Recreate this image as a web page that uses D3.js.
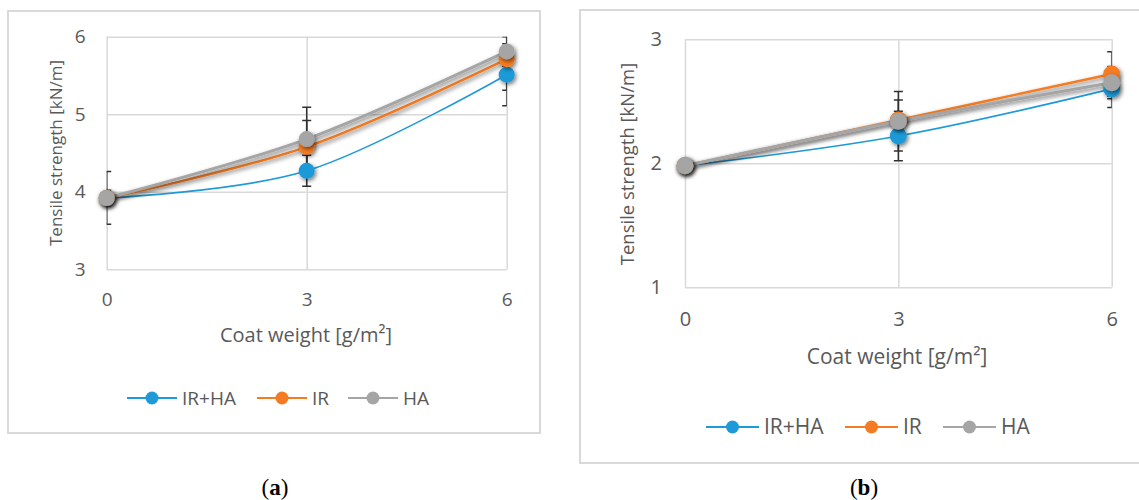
<!DOCTYPE html>
<html>
<head>
<meta charset="utf-8">
<script src="https://cdn.jsdelivr.net/npm/d3@7"></script>
<style>
  body { margin: 0; background: #fff; }
  text { font-family: "Open Sans", sans-serif; fill: #595959; }
</style>
</head>
<body>
<svg id="chart"></svg>
<script>
// ---- data ----
const coatWeights = [0, 3, 6];
const seriesNames = ["IR+HA", "IR", "HA"];
const xTicks = [0, 3, 6];

// panel (a)
const aTicksY = [3, 4, 5, 6];
const aIRHA = [3.92, 4.27, 5.51];
const aIR   = [3.92, 4.58, 5.71];
const aHA   = [3.92, 4.68, 5.81];
const aIRHAerr = [0.34, 0.20, 0.40];
const aIRerr   = [0.10, 0.34, 0.40];
const aHAerr   = [0.08, 0.41, 0.19];

// panel (b)
const bTicksY = [1, 2, 3];
const bIRHA = [1.98, 2.22, 2.60];
const bIR   = [1.98, 2.35, 2.72];
const bHA   = [1.98, 2.34, 2.65];
const bIRHAerr = [0.04, 0.20, 0.15];
const bIRerr   = [0.04, 0.16, 0.18];
const bHAerr   = [0.04, 0.24, 0.13];

const colors = { "IR+HA": "#1f9ad8", "IR": "#f57b22", "HA": "#a5a5a5" };
const widths = { "IR+HA": 1.6, "IR": 2.4, "HA": 3 };

const width = 1139, height = 500;
const svg = d3.select("#chart")
    .attr("width", width)
    .attr("height", height)
    .attr("viewBox", [0, 0, width, height]);

// soft shadow like Excel's outer shadow
const defs = svg.append("defs");
const shadow = defs.append("filter").attr("id", "shadow")
    .attr("x", "-50%").attr("y", "-50%").attr("width", "200%").attr("height", "200%");
shadow.append("feDropShadow")
    .attr("dx", 1.5).attr("dy", 2).attr("stdDeviation", 2)
    .attr("flood-color", "#000").attr("flood-opacity", 0.55);

function drawPanel(p) {
    // panel frame
    svg.append("rect")
        .attr("x", p.box[0]).attr("y", p.box[1])
        .attr("width", p.box[2] - p.box[0]).attr("height", p.box[3] - p.box[1])
        .attr("fill", "none").attr("stroke", "#d9d9d9").attr("stroke-width", 2);

    const x = d3.scaleLinear().domain([0, 6]).range([p.plot[0], p.plot[2]]);
    const y = d3.scaleLinear().domain(p.yDomain).range([p.plot[3], p.plot[1]]);

    // gridlines
    svg.append("g")
        .attr("transform", `translate(0,${p.plot[3]})`)
        .call(d3.axisBottom(x).tickValues(xTicks).tickSize(-(p.plot[3] - p.plot[1])).tickFormat(""))
        .call(g => g.select(".domain").remove())
        .call(g => g.selectAll("line").attr("stroke", "#d9d9d9").attr("stroke-width", 1.5));
    svg.append("g")
        .attr("transform", `translate(${p.plot[0]},0)`)
        .call(d3.axisLeft(y).tickValues(p.yTicks).tickSize(-(p.plot[2] - p.plot[0])).tickFormat(""))
        .call(g => g.select(".domain").remove())
        .call(g => g.selectAll("line").attr("stroke", "#d9d9d9").attr("stroke-width", 1.5));

    // tick labels
    svg.append("g")
        .attr("transform", `translate(0,${p.plot[3]})`)
        .call(d3.axisBottom(x).tickValues(xTicks).tickSize(0).tickPadding(p.xPad).tickFormat(d3.format("d")))
        .call(g => g.select(".domain").remove())
        .call(g => g.selectAll("text").attr("font-size", p.tickFont).attr("font-family", null).attr("fill", null));
    svg.append("g")
        .attr("transform", `translate(${p.plot[0]},0)`)
        .call(d3.axisLeft(y).tickValues(p.yTicks).tickSize(0).tickPadding(p.yPad).tickFormat(d3.format("d")))
        .call(g => g.select(".domain").remove())
        .call(g => g.selectAll("text").attr("font-size", p.tickFont).attr("font-family", null).attr("fill", null));

    // axis titles
    svg.append("text")
        .attr("x", p.xTitle[0]).attr("y", p.xTitle[1])
        .attr("text-anchor", "middle").attr("dy", "0.35em")
        .attr("font-size", p.xTitleFont)
        .text("Coat weight [g/m²]");
    svg.append("text")
        .attr("transform", `translate(${p.yTitle[0]},${p.yTitle[1]}) rotate(-90)`)
        .attr("text-anchor", "middle").attr("dy", "0.35em")
        .attr("font-size", p.yTitleFont)
        .text("Tensile strength [kN/m]");

    const clipId = "clip" + p.id;
    defs.append("clipPath").attr("id", clipId)
        .append("rect")
        .attr("x", p.plot[0]).attr("y", p.plot[1])
        .attr("width", p.plot[2] - p.plot[0]).attr("height", p.plot[3] - p.plot[1]);

    const series = seriesNames.map((name, i) => ({
        name,
        points: coatWeights.map((c, j) => ({ x: c, y: p.values[i][j], e: p.errors[i][j] }))
    }));

    // error bars (clipped to plot area)
    const eb = svg.append("g").attr("clip-path", `url(#${clipId})`)
        .attr("stroke", "#303030").attr("stroke-width", 1.5).attr("fill", "none");
    series.forEach(s => {
        s.points.forEach(d => {
            const cx = x(d.x), y1 = y(d.y + d.e), y2 = y(d.y - d.e);
            eb.append("line").attr("x1", cx).attr("x2", cx).attr("y1", y1).attr("y2", y2);
            eb.append("line").attr("x1", cx - 4.5).attr("x2", cx + 4.5).attr("y1", y1).attr("y2", y1);
            eb.append("line").attr("x1", cx - 4.5).attr("x2", cx + 4.5).attr("y1", y2).attr("y2", y2);
        });
    });

    // smoothed lines
    const line = d3.line()
        .x(d => x(d.x)).y(d => y(d.y))
        .curve(d3.curveCatmullRom.alpha(0));
    series.forEach(s => {
        svg.append("path")
            .datum(s.points)
            .attr("fill", "none")
            .attr("stroke", colors[s.name])
            .attr("stroke-width", widths[s.name])
            .attr("filter", s.name === "IR+HA" ? null : "url(#shadow)")
            .attr("d", line);
    });

    // markers
    series.forEach(s => {
        svg.append("g")
            .attr("filter", "url(#shadow)")
            .selectAll("circle")
            .data(s.points)
            .join("circle")
            .attr("cx", d => x(d.x))
            .attr("cy", d => y(d.y))
            .attr("r", p.markerR)
            .attr("fill", colors[s.name]);
    });

    // legend
    const lg = svg.append("g");
    seriesNames.forEach((name, i) => {
        const lx = p.legendX[i], ly = p.legendY;
        lg.append("line")
            .attr("x1", lx).attr("x2", lx + p.legendLine)
            .attr("y1", ly).attr("y2", ly)
            .attr("stroke", colors[name]).attr("stroke-width", 2);
        lg.append("circle")
            .attr("cx", lx + p.legendLine / 2).attr("cy", ly)
            .attr("r", 6.5).attr("fill", colors[name]);
        lg.append("text")
            .attr("x", lx + p.legendLine + 5).attr("y", ly)
            .attr("dy", "0.35em")
            .attr("font-size", p.legendFont)
            .text(name);
    });

    // panel label
    const lab = svg.append("text")
        .attr("x", p.label[0]).attr("y", p.label[1])
        .attr("text-anchor", "middle")
        .attr("font-size", 23)
        .style("fill", "#000")
        .style("font-family", "'Liberation Serif', serif");
    lab.append("tspan").text("(");
    lab.append("tspan").attr("font-weight", "bold").text(p.id);
    lab.append("tspan").text(")");
}

drawPanel({
    id: "a",
    box: [8, 11, 540, 433],
    plot: [106.7, 36.7, 506.7, 269.3],
    yDomain: [3, 6],
    yTicks: aTicksY,
    values: [aIRHA, aIR, aHA],
    errors: [aIRHAerr, aIRerr, aHAerr],
    xPad: 23, yPad: 21,
    tickFont: 19, xTitleFont: 20, yTitleFont: 17,
    xTitle: [306, 335], yTitle: [56, 153],
    markerR: 8,
    legendX: [127, 257, 348], legendY: 398, legendLine: 50, legendFont: 19,
    label: [275, 495]
});

drawPanel({
    id: "b",
    box: [580, 10, 1141, 463],
    plot: [685, 39.3, 1111.7, 287.3],
    yDomain: [1, 3],
    yTicks: bTicksY,
    values: [bIRHA, bIR, bHA],
    errors: [bIRHAerr, bIRerr, bHAerr],
    xPad: 25, yPad: 23,
    tickFont: 20, xTitleFont: 21, yTitleFont: 18.5,
    xTitle: [897, 357], yTitle: [628, 164],
    markerR: 8.5,
    legendX: [706, 845, 943], legendY: 427, legendLine: 53, legendFont: 21,
    label: [864, 495]
});
</script>
</body>
</html>
